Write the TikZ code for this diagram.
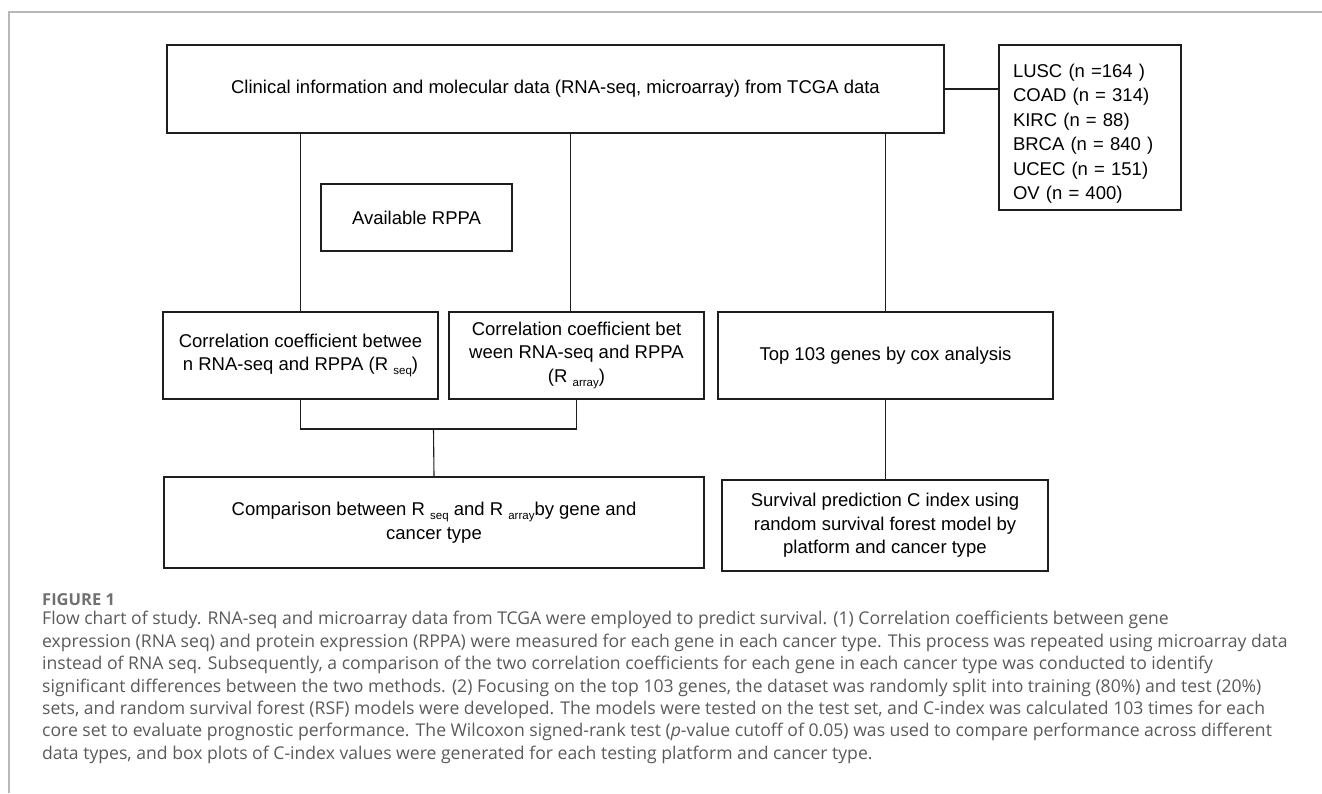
\documentclass[tikz,border=0pt]{standalone}
\usepackage{fontspec}
\setmainfont{Liberation Sans}
\newfontfamily\capfont{Open Sans}
\usetikzlibrary{calc}
\definecolor{framegray}{HTML}{B8B8B8}
\definecolor{capgray}{HTML}{5A5A5A}
\definecolor{figgray}{HTML}{707070}
\definecolor{boxline}{HTML}{1E1E1E}
\newcommand\lowsub[1]{\raisebox{-0.45ex}{\fontsize{11.5}{12}\selectfont #1}}
\begin{document}
\begin{tikzpicture}[x=1pt,y=-1pt,
  box/.style={draw=boxline, line width=1.4pt, align=center, inner sep=0pt,
    font=\fontsize{18.5}{23.5}\selectfont},
  conn/.style={draw=boxline, line width=1.1pt}]
\useasboundingbox (0,0) rectangle (1322,793);
\draw[framegray, line width=1.5pt] (9,793) -- (9,12) -- (1322,12);

\node[box, minimum width=777pt, minimum height=88pt] (top) at (555.5,89)
  {Clinical information and molecular data (RNA-seq, microarray) from TCGA data};
\node[box, minimum width=182pt, minimum height=165pt, align=left, text width=154pt,
  font=\fontsize{18.5}{24.5}\selectfont] (types) at (1090,127.5)
  {\rule{0pt}{26pt}LUSC (n =164 )\\COAD (n = 314)\\KIRC (n = 88)\\BRCA (n = 840 )\\UCEC (n = 151)\\OV (n = 400)};
\node[box, minimum width=191pt, minimum height=67pt] (rppa) at (416.5,217.5) {Available RPPA};
\node[box, minimum width=275pt, minimum height=87pt] (lft) at (300.5,355.5)
  {Correlation coefficient betwee\\n RNA-seq and RPPA (R \lowsub{seq})};
\node[box, minimum width=255pt, minimum height=87pt] (mid) at (576.5,355.5)
  {Correlation coefficient bet\\ween RNA-seq and RPPA\\(R \lowsub{array})};
\node[box, minimum width=335pt, minimum height=87pt] (cox) at (885.5,355.5)
  {Top 103 genes by cox analysis};
\node[box, minimum width=540pt, minimum height=91pt] (cmp) at (434,522.5)
  {Comparison between R \lowsub{seq} and R \lowsub{array}by gene and\\cancer type};
\node[box, minimum width=326pt, minimum height=91pt] (surv) at (885,525.5)
  {Survival prediction C index using\\random survival forest model by\\platform and cancer type};

\coordinate (j) at (433.5,429);
\draw[conn] (top.east) -- (top.east -| types.west);
\draw[conn] (top.south -| lft.north) -- (lft.north);
\draw[conn] ([xshift=-6pt]top.south -| mid.north) -- ([xshift=-6pt]mid.north);
\draw[conn] (top.south -| cox.north) -- (cox.north);
\draw[conn] (lft.south) |- (j -| mid.south) -- (mid.south);
\draw[conn] (j) -- (cmp.north);
\draw[conn] (cox.south) -- (cox.south |- surv.north);

\node[anchor=base west, inner sep=0pt, text=figgray, font=\capfont\bfseries\fontsize{16.5}{18}\selectfont] (fig) at (42,605) {FIGURE 1};
\node[anchor=north west, inner sep=0pt, align=left, text=capgray,
  font=\capfont\fontsize{17.6}{22.45}\selectfont] (cap) at (42,611)
{Flow chart of study. RNA-seq and microarray data from TCGA were employed to predict survival. (1) Correlation coefficients between gene\\
expression (RNA seq) and protein expression (RPPA) were measured for each gene in each cancer type. This process was repeated using microarray data\\
instead of RNA seq. Subsequently, a comparison of the two correlation coefficients for each gene in each cancer type was conducted to identify\\
significant differences between the two methods. (2) Focusing on the top 103 genes, the dataset was randomly split into training (80\%) and test (20\%)\\
sets, and random survival forest (RSF) models were developed. The models were tested on the test set, and C-index was calculated 103 times for each\\
core set to evaluate prognostic performance. The Wilcoxon signed-rank test (\textit{p}-value cutoff of 0.05) was used to compare performance across different\\
data types, and box plots of C-index values were generated for each testing platform and cancer type.};
\end{tikzpicture}
\end{document}
